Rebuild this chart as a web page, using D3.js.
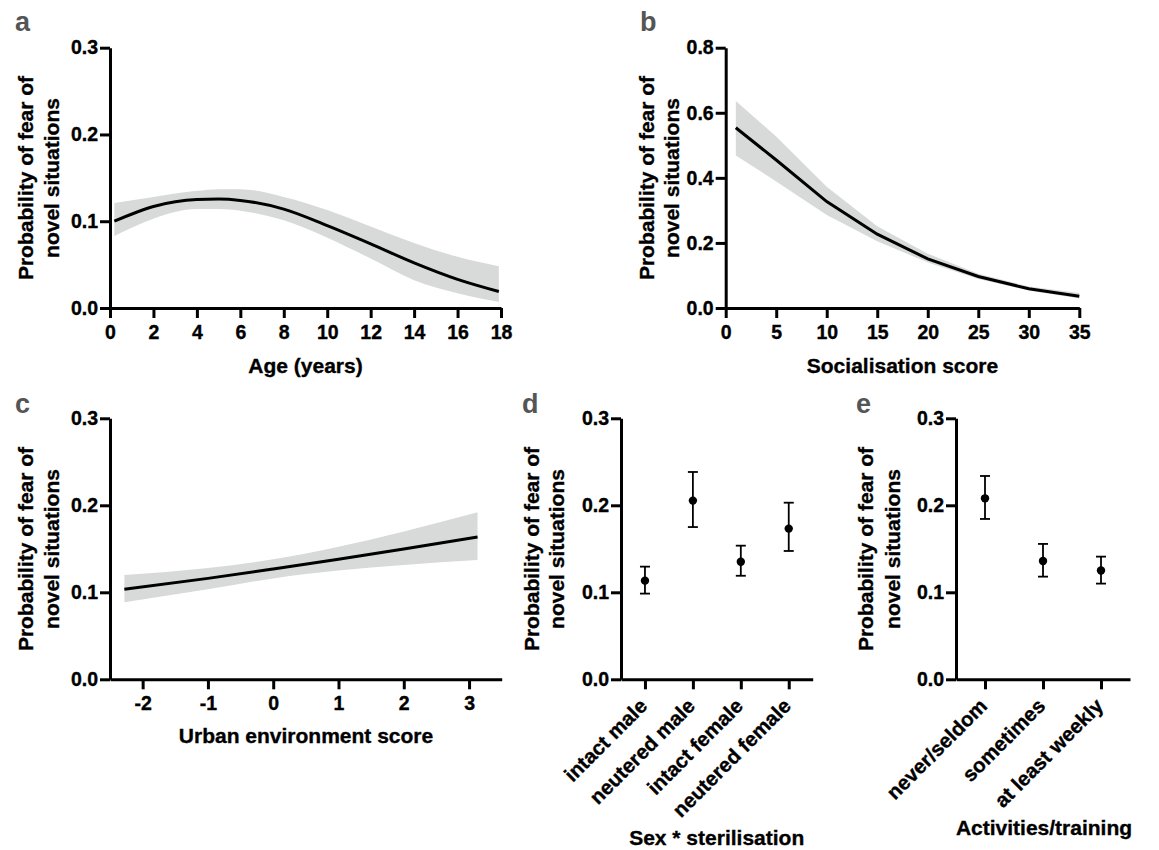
<!DOCTYPE html>
<html><head><meta charset="utf-8">
<script src="https://cdn.jsdelivr.net/npm/d3@7"></script>
<style>
body{margin:0;background:#fff;}
text{font-family:"Liberation Sans",Arial,Helvetica,sans-serif;font-weight:bold;}
</style></head>
<body><svg id="c" width="1159" height="850"></svg>
<script>
// ---- data ----
const ageX     = [0.2, 2, 4, 5, 6, 8, 10, 12, 14, 16, 17.9];
const ageFit   = [0.100, 0.117, 0.125, 0.1255, 0.124, 0.114, 0.095, 0.074, 0.052, 0.033, 0.019];
const ageUpper = [0.121, 0.128, 0.135, 0.137, 0.137, 0.128, 0.113, 0.094, 0.075, 0.059, 0.048];
const ageLower = [0.083, 0.103, 0.114, 0.114, 0.112, 0.101, 0.081, 0.057, 0.032, 0.017, 0.007];

const socX     = [1, 5, 10, 15, 20, 25, 30, 35];
const socFit   = [0.554, 0.455, 0.327, 0.227, 0.151, 0.097, 0.059, 0.036];
const socUpper = [0.636, 0.527, 0.373, 0.251, 0.167, 0.105, 0.066, 0.046];
const socLower = [0.469, 0.389, 0.286, 0.205, 0.140, 0.089, 0.054, 0.029];

const urbanX     = [-2.28, -1, 0, 1, 2, 3.13];
const urbanFit   = [0.1034, 0.116, 0.1268, 0.138, 0.1498, 0.1636];
const urbanUpper = [0.120, 0.128, 0.138, 0.1525, 0.170, 0.192];
const urbanLower = [0.0885, 0.1034, 0.116, 0.125, 0.1314, 0.137];

const sexCats  = ["intact male", "neutered male", "intact female", "neutered female"];
const sexMean  = [0.1134, 0.2054, 0.1352, 0.1732];
const sexLower = [0.0985, 0.175, 0.119, 0.1475];
const sexUpper = [0.1295, 0.2383, 0.1536, 0.203];

const actCats  = ["never/seldom", "sometimes", "at least weekly"];
const actMean  = [0.208, 0.136, 0.125];
const actLower = [0.1843, 0.118, 0.110];
const actUpper = [0.2337, 0.1556, 0.141];

const ageTicks = [0,2,4,6,8,10,12,14,16,18];
const socTicks = [0,5,10,15,20,25,30,35];
const urbanTicks = [-2,-1,0,1,2,3];
const probTicks03 = [0, 0.1, 0.2, 0.3];
const probTicks08 = [0, 0.2, 0.4, 0.6, 0.8];
const yTitle = ["Probability of fear of", "novel situations"];

// ---- drawing ----
const svg = d3.select("#c");
const FS = 19.5;   // tick labels
const TS = 21;     // axis titles
const bandFill = "#d8dada";
const plain = d => String(d);

function heavy(sel){
  return sel.attr("stroke","#000").attr("stroke-width",0.35).attr("paint-order","stroke");
}
function styleAxis(g){
  g.selectAll("path.domain").attr("stroke","#000").attr("stroke-width",3);
  g.selectAll(".tick line").attr("stroke","#000").attr("stroke-width",3);
  heavy(g.selectAll(".tick text").attr("font-size",FS).attr("fill","#000")
   .attr("font-family","Liberation Sans, Arial, sans-serif").attr("font-weight","bold"));
}

function yAxis(y, x0, ticks){
  const g = svg.append("g").attr("transform",`translate(${x0},0)`)
    .call(d3.axisLeft(y).tickValues(ticks).tickFormat(d3.format(".1f")).tickSize(10).tickSizeOuter(0).tickPadding(2));
  styleAxis(g);
  return g;
}
function xAxis(x, y0, ticks){
  const ax = d3.axisBottom(x).tickSize(10).tickSizeOuter(0).tickPadding(7).tickValues(ticks).tickFormat(plain);
  const g = svg.append("g").attr("transform",`translate(0,${y0})`).call(ax);
  styleAxis(g);
  return g;
}
function yTitleText(x1, x2, cy){
  [x1, x2].forEach((cx,i)=>{
    heavy(svg.append("text").attr("transform",`translate(${cx+7.5},${cy}) rotate(-90)`)
      .attr("text-anchor","middle").attr("font-size",TS).text(yTitle[i]));
  });
}
function xTitle(cx, by, t){
  heavy(svg.append("text").attr("x",cx).attr("y",by).attr("text-anchor","middle").attr("font-size",TS).text(t));
}
function panelLabel(x, y, t){
  svg.append("text").attr("x",x).attr("y",y).attr("font-size",27).attr("fill","#555").text(t);
}
function bandPanel(xs, fit, lo, hi, x, y, curve){
  const idx = d3.range(xs.length);
  svg.append("path").datum(idx)
    .attr("d", d3.area().x(i=>x(xs[i])).y0(i=>y(lo[i])).y1(i=>y(hi[i])).curve(curve))
    .attr("fill", bandFill);
  svg.append("path").datum(idx)
    .attr("d", d3.line().x(i=>x(xs[i])).y(i=>y(fit[i])).curve(curve))
    .attr("fill","none").attr("stroke","#000").attr("stroke-width",3);
}
function pointPanel(cats, mean, lo, hi, x, y){
  const g = svg.append("g");
  cats.forEach((c,i)=>{
    const cx = x(c);
    g.append("line").attr("x1",cx).attr("x2",cx).attr("y1",y(lo[i])).attr("y2",y(hi[i]))
      .attr("stroke","#000").attr("stroke-width",1.8);
    [lo[i],hi[i]].forEach(v=>{
      g.append("line").attr("x1",cx-5).attr("x2",cx+5).attr("y1",y(v)).attr("y2",y(v))
        .attr("stroke","#000").attr("stroke-width",1.8);
    });
    g.append("circle").attr("cx",cx).attr("cy",y(mean[i])).attr("r",4.2).attr("fill","#000");
  });
}
function catAxis(x, y0){
  const g = svg.append("g").attr("transform",`translate(0,${y0})`)
    .call(d3.axisBottom(x).tickSize(10).tickSizeOuter(0));
  styleAxis(g);
  g.selectAll(".tick text")
    .attr("font-size",TS-0.5)
    .attr("text-anchor","end")
    .attr("transform","translate(3,28) rotate(-45)")
    .attr("y",0).attr("dy","0").attr("x",0);
  return g;
}

// Panel a
{
  const x = d3.scaleLinear().domain([0,18]).range([110,501]);
  const y = d3.scaleLinear().domain([0,0.3]).range([308,47.7]);
  bandPanel(ageX, ageFit, ageLower, ageUpper, x, y, d3.curveMonotoneX);
  yAxis(y,110,probTicks03);
  xAxis(x,308,ageTicks);
  yTitleText(25,51,178);
  xTitle(305.5,373,"Age (years)");
  panelLabel(15,31,"a");
}
// Panel b
{
  const x = d3.scaleLinear().domain([0,35]).range([725.7,1079.3]);
  const y = d3.scaleLinear().domain([0,0.8]).range([308,47.7]);
  bandPanel(socX, socFit, socLower, socUpper, x, y, d3.curveLinear);
  yAxis(y,725.7,probTicks08);
  xAxis(x,308,socTicks);
  yTitleText(646,671.5,178);
  xTitle(902.5,373,"Socialisation score");
  panelLabel(640,31,"b");
}
// Panel c
{
  const x = d3.scaleLinear().domain([-2.5,3.5]).range([110,501.7]);
  const y = d3.scaleLinear().domain([0,0.3]).range([679.3,418.3]);
  bandPanel(urbanX, urbanFit, urbanLower, urbanUpper, x, y, d3.curveMonotoneX);
  yAxis(y,110,probTicks03);
  xAxis(x,679.3,urbanTicks);
  yTitleText(25,51,549);
  xTitle(306,743,"Urban environment score");
  panelLabel(15,413,"c");
}
// Panel d
{
  const x = d3.scalePoint().domain(sexCats).range([621,812.7]).padding(0.5);
  const y = d3.scaleLinear().domain([0,0.3]).range([679.3,418.3]);
  pointPanel(sexCats, sexMean, sexLower, sexUpper, x, y);
  yAxis(y,621,probTicks03);
  catAxis(x,679.3);
  yTitleText(531,556,549);
  xTitle(716.7,845,"Sex * sterilisation");
  panelLabel(522,413,"d");
}
// Panel e
{
  const x = d3.scalePoint().domain(actCats).range([956,1130]).padding(0.5);
  const y = d3.scaleLinear().domain([0,0.3]).range([679.3,418.3]);
  pointPanel(actCats, actMean, actLower, actUpper, x, y);
  yAxis(y,956,probTicks03);
  catAxis(x,679.3);
  yTitleText(865,892,549);
  xTitle(1044,835,"Activities/training");
  panelLabel(856,413,"e");
}
</script></body></html>
